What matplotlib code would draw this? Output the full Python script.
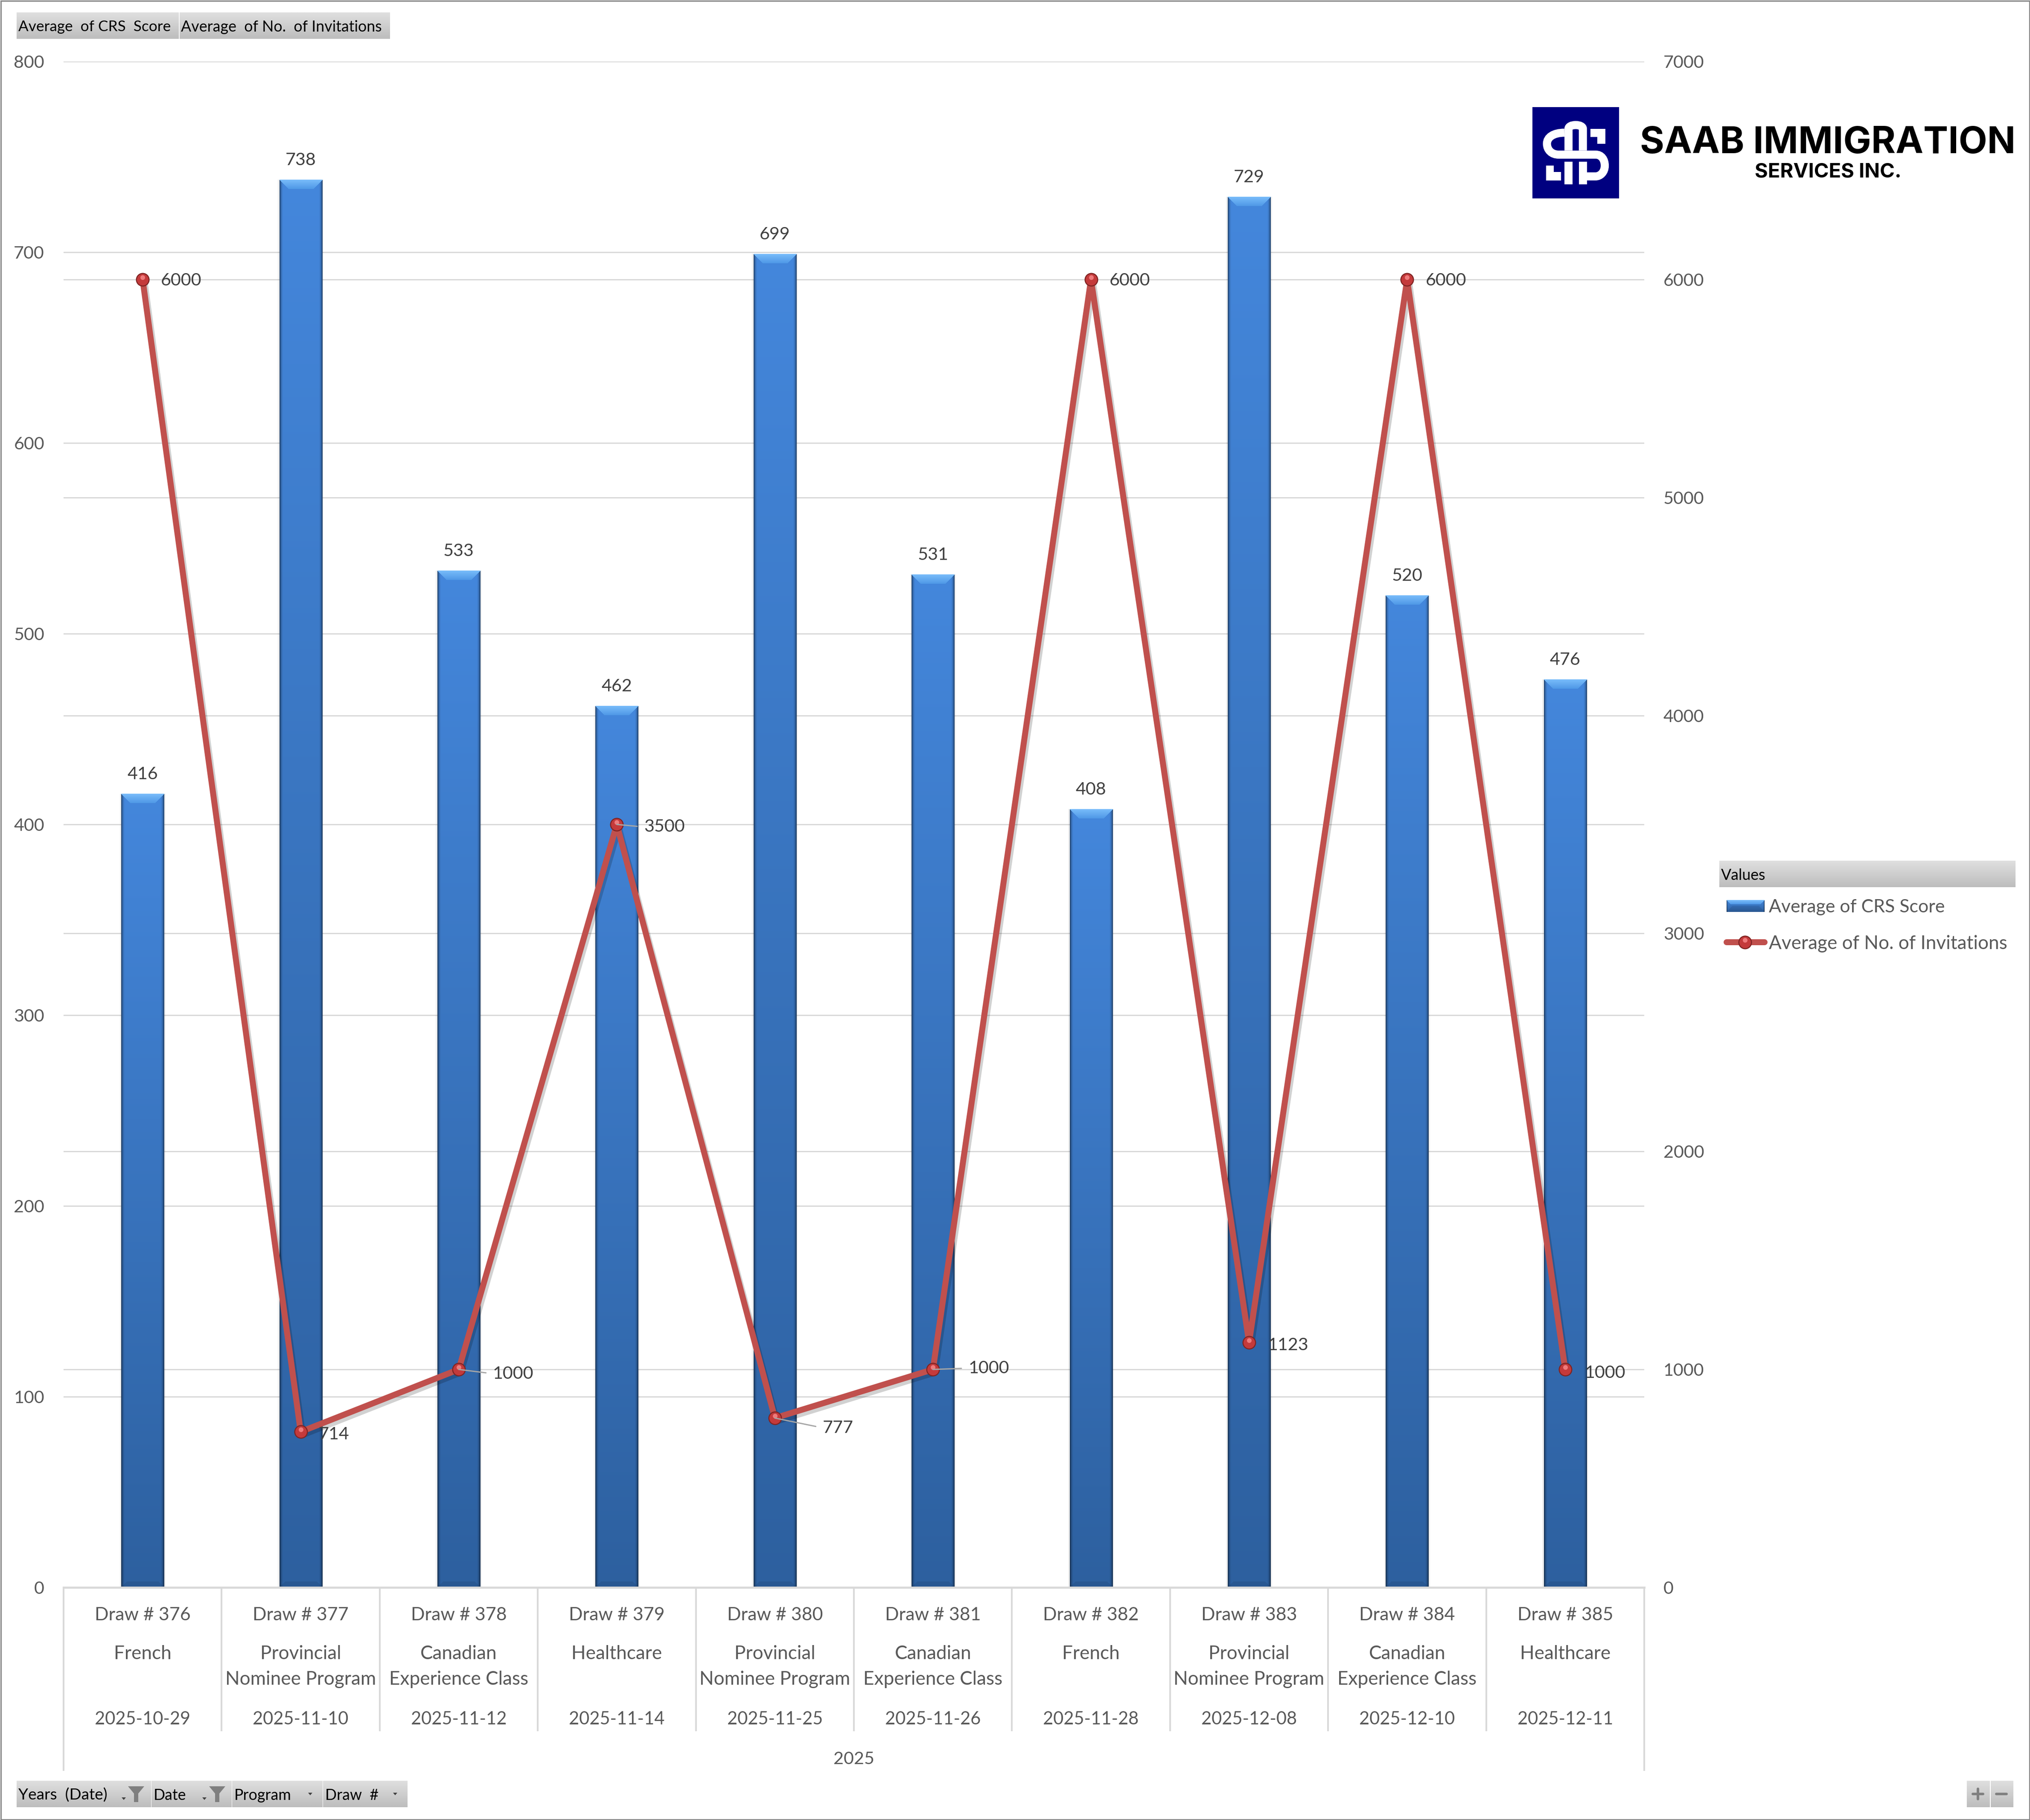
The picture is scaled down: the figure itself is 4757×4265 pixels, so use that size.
import numpy as np
import matplotlib
matplotlib.use('Agg')
import matplotlib.pyplot as plt
from matplotlib.patches import Rectangle, Polygon, PathPatch
from matplotlib.path import Path
from matplotlib.transforms import blended_transform_factory, offset_copy
import matplotlib.patheffects as pe

# data
draws = ['Draw # 376', 'Draw # 377', 'Draw # 378', 'Draw # 379', 'Draw # 380',
         'Draw # 381', 'Draw # 382', 'Draw # 383', 'Draw # 384', 'Draw # 385']
programs = ['French', 'Provincial\nNominee Program', 'Canadian\nExperience Class', 'Healthcare',
            'Provincial\nNominee Program', 'Canadian\nExperience Class', 'French',
            'Provincial\nNominee Program', 'Canadian\nExperience Class', 'Healthcare']
dates = ['2025-10-29', '2025-11-10', '2025-11-12', '2025-11-14', '2025-11-25',
         '2025-11-26', '2025-11-28', '2025-12-08', '2025-12-10', '2025-12-11']
crs = [416, 738, 533, 462, 699, 531, 408, 729, 520, 476]
invitations = [6000, 714, 1000, 3500, 777, 1000, 6000, 1123, 6000, 1000]

# label offsets for the line series, in pixels (dx, dy down)
inv_label_dx = [43, 42, 80, 64, 112, 83, 43, 44, 43, 46]
inv_label_dy = [3, 6, 10, 6, 23, -3, 3, 6, 3, 8]
inv_leader = [False, False, True, True, True, True, False, False, False, False]

W, H = 4757, 4265
DPI = 300
GREY_TEXT = '#595959'
DARK_TEXT = '#404040'
GRID = '#D9D9D9'


def px(n):
    return n * 72 / DPI


def mix(a, b, t):
    return np.asarray(a) * (1 - t) + np.asarray(b) * t


def rgb(h):
    return np.array(matplotlib.colors.to_rgb(h))


def bevel_image(w, h, bev=22, side=9):
    """RGB picture of one glossy bar, w x h pixels"""
    w, h = int(max(w, 2)), int(max(h, 2))
    top, bottom = rgb('#4487DC'), rgb('#2D609F')
    t = np.linspace(0, 1, h)[:, None, None]
    img = top * (1 - t) + bottom * t
    img = np.repeat(img, w, axis=1)
    xd = np.minimum(np.arange(w), np.arange(w)[::-1])[None, :]
    shade = np.clip(1 - xd / side, 0, 1)[:, :, None] ** 2
    img = img * (1 - shade * 0.5)
    yy = np.arange(h)[:, None]
    top_mask = (yy < bev) & (xd >= yy)
    img[top_mask] = mix(rgb('#78BCFA'), rgb('#4E97E6'), (yy / bev * np.ones((h, w)))[top_mask][:, None])
    bot = h - 1 - yy
    bot_mask = (bot < 14) & (xd >= bot)
    img[bot_mask] = img[bot_mask] * 0.92
    return img


fig = plt.figure(figsize=(W / DPI, H / DPI), dpi=DPI, facecolor='white')
plt.rcParams['font.family'] = ['Lato', 'DejaVu Sans']

left, right, top, base = 149, 3853, 144, 3720
ax = fig.add_axes([left / W, 1 - base / H, (right - left) / W, (base - top) / H])
ax2 = ax.twinx()
x = np.arange(len(crs))
bar_w = 0.27

bars = ax.bar(x, crs, width=bar_w, color='#3B76BD', zorder=2)
ax.set_xlim(-0.5, 9.5)
ax.set_ylim(0, 800)
ax.set_yticks(np.arange(0, 801, 100))
ax2.set_ylim(0, 7000)
ax2.set_yticks(np.arange(0, 7001, 1000))
ax.set_xticks([])

y_scale = (base - top) / 800
for b, val in zip(bars, crs):
    x0 = b.get_x()
    x1 = x0 + b.get_width()
    # soft shadow either side
    ax.bar(b.get_x() + bar_w / 2, val, width=bar_w * 1.07, color='#000000', alpha=0.06, zorder=1.9)
    ax.imshow(bevel_image(101, val * y_scale), extent=(x0, x1, 0, val), aspect='auto', zorder=2.1,
              interpolation='bilinear')
    b.set_visible(False)
ax.set_xlim(-0.5, 9.5)
ax.set_ylim(0, 800)

for xi, val in zip(x, crs):
    ax.annotate(str(val), (xi, val), xytext=(0, px(46)), textcoords='offset points', ha='center',
                va='center', fontsize=9.9, color=DARK_TEXT, zorder=5)

for a in (ax, ax2):
    for s in a.spines.values():
        s.set_visible(False)
    a.tick_params(axis='y', length=0, pad=px(45), labelsize=9.9, labelcolor=GREY_TEXT)
ax.grid(axis='y', color=GRID, lw=px(3), zorder=0)
ax.set_axisbelow(True)
# gridlines of the right hand scale sit behind the bars as well
for t in ax2.get_yticks()[1:]:
    ax.axhline(t * 800 / 7000, color=GRID, lw=px(3), zorder=0.5)
ax.patch.set_visible(False)
ax2.patch.set_visible(False)
ax.spines['bottom'].set_visible(True)
ax.spines['bottom'].set_color(GRID)
ax.spines['bottom'].set_linewidth(px(5))

ax2.plot(x, invitations, color='#C0504D', lw=px(14), solid_capstyle='round', zorder=3,
         path_effects=[pe.SimpleLineShadow(offset=(1.2, -1.8), alpha=0.18, shadow_color='k'), pe.Normal()])
ax2.scatter(x, invitations, s=px(32) ** 2, color='#7F2423', zorder=4, linewidths=0)
ax2.scatter(x, invitations, s=px(27) ** 2, color='#C43A3B', zorder=4.1, linewidths=0)
hi = offset_copy(ax2.transData, fig=fig, x=0, y=px(5), units='points')
ax2.scatter(x, invitations, s=px(11) ** 2, color='#EE7B7C', zorder=4.2, linewidths=0, transform=hi)

for xi, val, dx, dy, lead in zip(x, invitations, inv_label_dx, inv_label_dy, inv_leader):
    arrow = dict(arrowstyle='-', color='#A6A6A6', lw=px(3), shrinkA=px(8), shrinkB=0, relpos=(0, 0.5)) if lead else None
    ax2.annotate(str(val), (xi, val), xytext=(px(dx), -px(dy)), textcoords='offset points', ha='left',
                 va='center', fontsize=9.9, color=DARK_TEXT, zorder=5, arrowprops=arrow, annotation_clip=False)

# overlay in image pixels for the pivot chart furniture
pix = fig.add_axes([0, 0, 1, 1], zorder=10)
pix.patch.set_visible(False)
pix.axis('off')


def button(x0, x1, y0, y1):
    g = np.linspace(0, 1, 32)[:, None, None]
    img = mix(rgb('#DFDFDF'), rgb('#BDBDBD'), g)
    pix.imshow(img, extent=(x0, x1, y1, y0), aspect='auto', zorder=1)


def btext(xp, yp, s, fs=8.6):
    pix.text(xp, yp, s, ha='left', va='center', fontsize=fs, color='black', zorder=2)


def funnel(cx, y0=4186, y1=4223):
    pix.add_patch(Polygon([(cx - 19, y0), (cx + 19, y0), (cx + 5, y0 + 17), (cx + 5, y1), (cx - 5, y1), (cx - 5, y0 + 17)],
                          fc='#7F7F7F', ec='none', zorder=2))


def caret(cx, cy):
    pix.add_patch(Polygon([(cx - 5, cy - 3), (cx + 5, cy - 3), (cx, cy + 3)], fc='#404040', ec='none', zorder=2))


button(39, 419, 29, 91)
button(421, 914, 29, 91)
btext(43, 63, 'Average  of CRS  Score', fs=8.45)
btext(424, 63, 'Average  of No.  of Invitations', fs=8.6)

button(39, 354, 4173, 4235)
button(355, 543, 4173, 4235)
button(544, 756, 4173, 4235)
button(757, 955, 4173, 4235)
btext(43, 4207, 'Years  (Date)', fs=8.9)
btext(360, 4207, 'Date')
btext(549, 4207, 'Program')
btext(762, 4207, 'Draw  #')
funnel(319)
funnel(509)
caret(290, 4215)
caret(479, 4215)
caret(727, 4204)
caret(926, 4204)

button(4609, 4663, 4173, 4235)
button(4665, 4718, 4173, 4235)
pix.plot([4623, 4647], [4204, 4204], color='#808080', lw=px(6), solid_capstyle='round', zorder=2)
pix.plot([4635, 4635], [4192, 4216], color='#808080', lw=px(6), solid_capstyle='round', zorder=2)
pix.plot([4678, 4702], [4204, 4204], color='#808080', lw=px(6), solid_capstyle='round', zorder=2)

# legend
button(4029, 4723, 2017, 2079)
btext(4033, 2052, 'Values')
pix.imshow(bevel_image(89, 28, bev=10, side=3), extent=(4046, 4135, 2137, 2109), aspect='auto', zorder=1)
pix.text(4145, 2126, 'Average of CRS Score', ha='left', va='center', fontsize=10.3, color=GREY_TEXT)
pix.plot([4046, 4135], [2208, 2208], color='#C0504D', lw=px(14), solid_capstyle='round', zorder=2)
pix.scatter([4089], [2208], s=px(32) ** 2, color='#7F2423', linewidths=0, zorder=3)
pix.scatter([4089], [2208], s=px(27) ** 2, color='#C43A3B', linewidths=0, zorder=3.1)
pix.scatter([4089], [2203], s=px(11) ** 2, color='#EE7B7C', linewidths=0, zorder=3.2)
pix.text(4145, 2211, 'Average of No. of Invitations', ha='left', va='center', fontsize=10.6, color=GREY_TEXT)

# multi level category axis
bx = blended_transform_factory(ax.transData, pix.transData)
for i in range(len(crs) + 1):
    end = 4150 if i in (0, len(crs)) else 4057
    pix.plot([i - 0.5, i - 0.5], [base, end], color=GRID, lw=px(4), transform=bx, zorder=1, solid_capstyle='butt')
for i in range(len(crs)):
    pix.text(i, 3785, draws[i], transform=bx, ha='center', va='center', fontsize=10.3, color=GREY_TEXT)
    pix.text(i, 3855, programs[i], transform=bx, ha='center', va='top', fontsize=10.6, color=GREY_TEXT,
             linespacing=1.57)
    pix.text(i, 4029, dates[i], transform=bx, ha='center', va='center', fontsize=10, color=GREY_TEXT)
pix.text(4.5, 4123, '2025', transform=bx, ha='center', va='center', fontsize=9.9, color=GREY_TEXT)

# logo
navy = '#000080'
pix.add_patch(Rectangle((3591, 251), 203, 214, fc=navy, ec='none', zorder=3))


def lx(d):
    return 3500 + d / 1.2474


def ly(d):
    return 200 + d / 3


def stroke(verts, codes):
    pts = [(lx(a), ly(b)) for a, b in verts]
    pix.add_patch(PathPatch(Path(pts, codes), fc='none', ec='white', lw=px(19), capstyle='butt', zorder=4))


def solid(verts):
    pix.add_patch(Polygon([(lx(a), ly(b)) for a, b in verts], fc='white', ec='none', zorder=4))


M, L, C = Path.MOVETO, Path.LINETO, Path.CURVE4
stroke([(207, 333), (175, 333), (156, 365), (156, 410), (156, 455), (170, 487), (190, 487), (298, 487),
        (315, 487), (325, 520), (325, 565), (325, 610), (312, 640), (298, 640), (273, 640)],
       [M, C, C, C, C, C, C, L, C, C, C, C, C, C, L])
stroke([(219, 458), (219, 305), (219, 290), (228, 279), (240, 279), (252, 279), (261, 290), (261, 305), (261, 458)],
       [M, L, C, C, C, C, C, C, L])
solid([(283, 305), (327, 305), (327, 410), (303, 410), (303, 362), (283, 362)])
solid([(153, 565), (176, 565), (176, 610), (197, 610), (197, 668), (153, 668)])
solid([(207, 538), (231, 538), (231, 697), (207, 697)])
solid([(250, 538), (273, 538), (273, 697), (250, 697)])

pix.text(4283, 336, 'SAAB IMMIGRATION', ha='center', va='center', fontsize=20.9, fontweight='bold',
         family='Inter', color='black', zorder=4)
pix.text(4284, 404, 'SERVICES INC.', ha='center', va='center', fontsize=11.3, fontweight='bold',
         family='Inter', color='black', zorder=4)

# window border
pix.add_patch(Rectangle((1.5, 1.5), W - 3, H - 3, fc='none', ec='#868686', lw=px(3), zorder=6))

pix.set_xlim(0, W)
pix.set_ylim(H, 0)

fig.savefig('out.png', dpi=DPI)
